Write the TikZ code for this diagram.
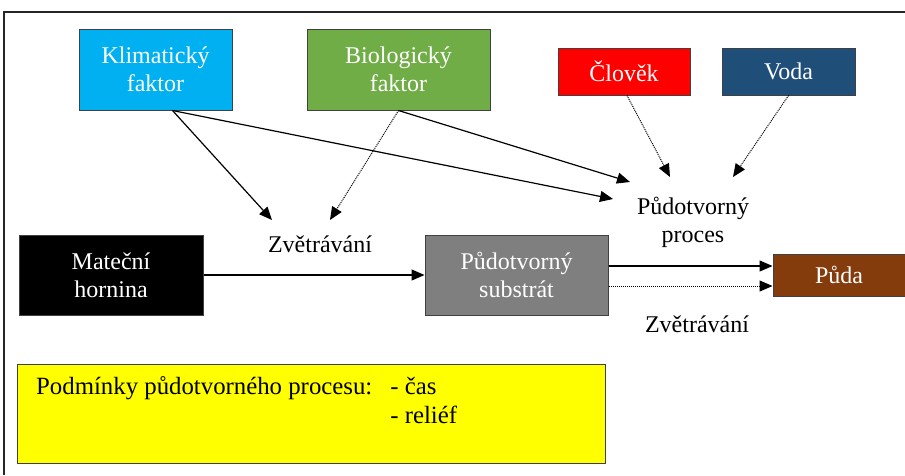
\documentclass[tikz,border=0pt]{standalone}
\usepackage{fontspec}
\setmainfont{Liberation Serif}
\usetikzlibrary{arrows.meta}
\definecolor{klimablue}{HTML}{00B0F0}
\definecolor{biogreen}{HTML}{70AD47}
\definecolor{vodablue}{HTML}{1F4E79}
\definecolor{subgray}{HTML}{7F7F7F}
\definecolor{pudabrown}{HTML}{843C0C}
\definecolor{condyellow}{HTML}{FFFF00}
\begin{document}
\begin{tikzpicture}[x=1pt,y=-1pt,
  box/.style={draw=black!75, line width=1pt, inner sep=0pt, align=center, text=white, font=\rmfamily\fontsize{24}{28}\selectfont},
  plain/.style={inner sep=0pt, align=center, font=\rmfamily\fontsize{24}{28}\selectfont},
  flow/.style={-{Triangle[length=13pt,width=11pt]}, line width=1.2pt},
  hint/.style={-{Triangle[length=13pt,width=11pt]}, densely dotted, line width=1pt}]
\useasboundingbox (0,0) rectangle (905,475);
\draw [line width=2pt, black!85] (905,12) -- (4,12) -- (4,475);
% factors
\node (klima) [box, fill=klimablue, minimum width=153, minimum height=81] at (155.5,69.5) {Klimatický\\faktor};
\node (bio) [box, fill=biogreen, minimum width=183, minimum height=81] at (398.5,69.5) {Biologický\\faktor};
\node (clovek) [box, fill=red, minimum width=132, minimum height=47] at (624,71.5) {Člověk};
\node (voda) [box, fill=vodablue, minimum width=133, minimum height=47] at (788.5,71.5) {Voda};
% main row
\node (mat) [box, fill=black, minimum width=184, minimum height=80] at (111,275) {Mateční\\hornina};
\node (sub) [box, fill=subgray, minimum width=183, minimum height=80] at (516.5,275) {Půdotvorný\\substrát};
\node (puda) [box, fill=pudabrown, minimum width=132, minimum height=42] at (839,275) {Půda};
\node (zv1) [plain] at (320,244) {Zvětrávání};
\node (proc) [plain] at (693,222) {Půdotvorný\\proces};
\node (zv2) [plain] at (697,324) {Zvětrávání};
% conditions
\node (cond) [draw=black!75, line width=1pt, fill=condyellow, minimum width=588, minimum height=99] at (311,413.5) {};
\node (condtext) [plain, anchor=west, font=\rmfamily\fontsize{24.8}{29}\selectfont] at (36,403) {\begin{tabular}{@{}l@{\hspace{18pt}}l@{}}Podmínky půdotvorného procesu: & - čas\\ & - reliéf\end{tabular}};
% arrows
\draw [flow] ([xshift=17]klima.south) -- ([xshift=-48,yshift=24]zv1.center);
\draw [flow] ([xshift=17]klima.south) -- ([xshift=-80,yshift=23]proc.center);
\draw [flow] (bio.south) -- ([xshift=-63,yshift=40]proc.center);
\draw [hint] (bio.south) -- ([xshift=10,yshift=24]zv1.center);
\draw [hint] ([xshift=3]clovek.south) -- ([xshift=-23,yshift=45]proc.center);
\draw [hint] (voda.south) -- ([xshift=40,yshift=45]proc.center);
\draw [flow] (mat.east) -- (sub.west);
\draw [flow] ([yshift=9]sub.east) -- ([yshift=9]puda.west);
\draw [hint] ([yshift=-11]sub.east) -- ([yshift=-11]puda.west);
\end{tikzpicture}
\end{document}
